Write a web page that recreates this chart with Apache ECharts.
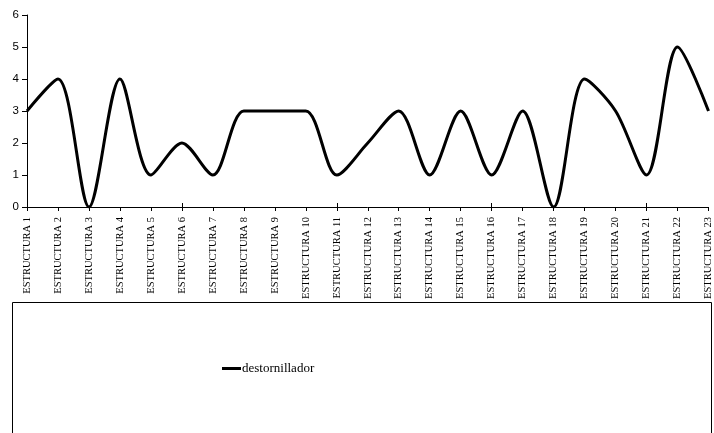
<!DOCTYPE html>
<html>
<head>
<meta charset="utf-8">
<script src="https://cdn.jsdelivr.net/npm/echarts@6/dist/echarts.min.js"></script>
<style>
  html, body { margin: 0; padding: 0; background: #fff; }
  #chart { width: 714px; height: 433px; }
</style>
</head>
<body>
<div id="chart"></div>
<script>
// Categories along the x axis
const categories = [
  'ESTRUCTURA 1', 'ESTRUCTURA 2', 'ESTRUCTURA 3', 'ESTRUCTURA 4', 'ESTRUCTURA 5',
  'ESTRUCTURA 6', 'ESTRUCTURA 7', 'ESTRUCTURA 8', 'ESTRUCTURA 9', 'ESTRUCTURA 10',
  'ESTRUCTURA 11', 'ESTRUCTURA 12', 'ESTRUCTURA 13', 'ESTRUCTURA 14', 'ESTRUCTURA 15',
  'ESTRUCTURA 16', 'ESTRUCTURA 17', 'ESTRUCTURA 18', 'ESTRUCTURA 19', 'ESTRUCTURA 20',
  'ESTRUCTURA 21', 'ESTRUCTURA 22', 'ESTRUCTURA 23'
];

// Series values
const seriesName = 'destornillador';
const destornillador = [3, 4, 0, 4, 1, 2, 1, 3, 3, 3, 1, 2, 3, 1, 3, 1, 3, 0, 4, 3, 1, 5, 3];

// Value axis range
const yMin = 0;
const yMax = 6;
const yStep = 1;

const chart = echarts.init(document.getElementById('chart'), null, { renderer: 'canvas' });

const serifFont = '"Liberation Serif", "Times New Roman", serif';
const sansFont = '"Liberation Sans", Arial, sans-serif';

chart.setOption({
  animation: false,
  backgroundColor: '#ffffff',
  grid: { left: 27, right: 4, top: 15, bottom: 226, containLabel: false },
  xAxis: [
    {
      type: 'category',
      data: categories,
      boundaryGap: false,
      axisLine: { show: true, lineStyle: { color: '#000', width: 1 } },
      axisTick: { show: true, length: 4, alignWithLabel: true, lineStyle: { color: '#000' } },
      axisLabel: {
        rotate: 90,
        interval: 0,
        margin: 10,
        fontFamily: serifFont,
        fontSize: 10.5,
        color: '#000'
      },
      splitLine: { show: false }
    },
    {
      // second copy of the category axis, only for the inward half of the cross ticks
      type: 'category',
      data: categories,
      boundaryGap: false,
      position: 'bottom',
      axisLine: { show: false },
      axisTick: { show: true, inside: true, length: 4, lineStyle: { color: '#000' } },
      axisLabel: { show: false },
      splitLine: { show: false }
    }
  ],
  yAxis: {
    type: 'value',
    min: yMin,
    max: yMax,
    interval: yStep,
    axisLine: { show: true, lineStyle: { color: '#000', width: 1 } },
    axisTick: { show: true, length: 5, lineStyle: { color: '#000' } },
    axisLabel: { fontFamily: sansFont, fontSize: 11.5, color: '#000', margin: 8 },
    splitLine: { show: false }
  },
  legend: {
    data: [{ name: seriesName, icon: 'rect' }],
    left: 222,
    top: 362,
    padding: 0,
    itemWidth: 19,
    itemHeight: 3,
    itemGap: 0,
    textStyle: { fontFamily: serifFont, fontSize: 13, color: '#000', padding: [0, 0, 0, -4] },
    itemStyle: { color: '#000' }
  },
  graphic: [
    {
      type: 'rect',
      shape: { x: 12.5, y: 302.5, width: 699, height: 140 },
      style: { fill: 'none', stroke: '#000', lineWidth: 1 },
      z: -1
    }
  ],
  series: [
    {
      name: seriesName,
      type: 'line',
      data: destornillador,
      smooth: 0.3,
      showSymbol: false,
      symbol: 'none',
      lineStyle: { color: '#000', width: 3 },
      itemStyle: { color: '#000' }
    }
  ]
});
</script>
</body>
</html>
